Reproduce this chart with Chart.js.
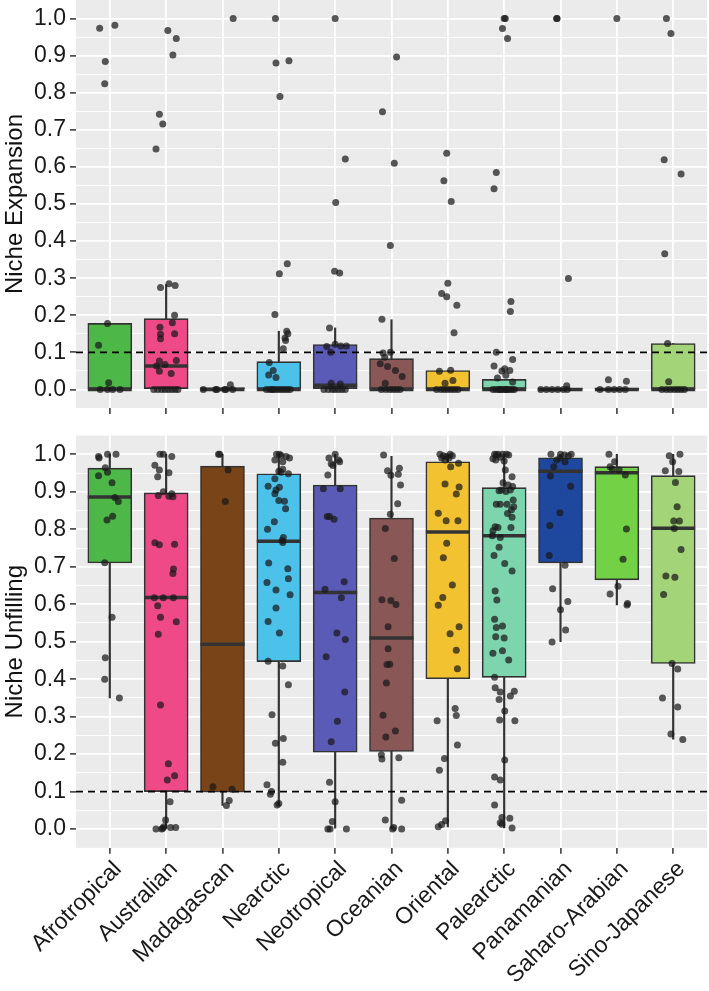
<!DOCTYPE html>
<html>
<head>
<meta charset="utf-8">
<script src="https://cdn.jsdelivr.net/npm/chart.js@4.4.1/dist/chart.umd.min.js"></script>
<style>
body { margin: 0; background: #fff; width: 709px; height: 991px; position: relative; overflow: hidden; }
canvas { position: absolute; left: 0; }
#topChart { top: 0; }
#bottomChart { top: 422px; }
</style>
</head>
<body>
<canvas id="topChart" width="709" height="422"></canvas>
<canvas id="bottomChart" width="709" height="569"></canvas>
<script>
var regions = ['Afrotropical', 'Australian', 'Madagascan', 'Nearctic', 'Neotropical', 'Oceanian',
    'Oriental', 'Palearctic', 'Panamanian', 'Saharo-Arabian', 'Sino-Japanese'];
var boxColors = ['#4DB748', '#EE4A88', '#7A4419', '#4CC2EB', '#5A5BB6', '#8A5757',
    '#F3C231', '#7DD5AE', '#1E479E', '#73D146', '#A3D477'];
var threshold = 0.1;

// niche expansion: box stats
var expLow = [0, 0, 0, 0, 0, 0, 0, 0, 0, 0, 0];
var expQ1 = [0, 0, 0, 0, 0, 0, 0, 0, 0, 0, 0];
var expMedian = [0, 0.063, 0, 0, 0.011, 0, 0, 0, 0, 0, 0];
var expQ3 = [0.178, 0.191, 0.005, 0.075, 0.121, 0.083, 0.051, 0.027, 0.003, 0.004, 0.124];
var expHigh = [0.178, 0.283, 0.005, 0.157, 0.166, 0.188, 0.051, 0.027, 0.003, 0.004, 0.124];

// niche expansion: observations (values and horizontal jitter, in category units)
var expValues = [
    [0.974, 0.982, 0.884, 0.824, 0.178, 0.119, 0.018, 0, 0, 0, 0],
    [0.968, 0.946, 0.902, 0.742, 0.716, 0.648, 0.275, 0.285, 0.28, 0.2, 0.18, 0.168, 0.149, 0.137, 0.15, 0.077, 0.063, 0.067, 0.078, 0.049, 0.043, 0, 0, 0, 0, 0, 0, 0, 0],
    [1.0, 0.013, 0, 0, 0, 0, 0, 0],
    [1.0, 0.88, 0.886, 0.79, 0.339, 0.312, 0.202, 0.157, 0.15, 0.139, 0.132, 0.11, 0.073, 0.051, 0.039, 0.032, 0, 0, 0, 0, 0, 0, 0, 0, 0, 0],
    [1.0, 0.621, 0.504, 0.319, 0.314, 0.166, 0.1, 0.122, 0.117, 0.117, 0.116, 0.017, 0.015, 0, 0, 0, 0, 0, 0, 0],
    [0.896, 0.749, 0.61, 0.388, 0.189, 0.098, 0.1, 0.087, 0.069, 0.062, 0.051, 0.035, 0.017, 0, 0, 0, 0, 0, 0],
    [0.637, 0.563, 0.507, 0.286, 0.259, 0.25, 0.227, 0.153, 0.049, 0.052, 0.024, 0.017, 0, 0, 0, 0, 0, 0, 0],
    [1, 1, 0.973, 0.946, 0.585, 0.541, 0.237, 0.21, 0.1, 0.081, 0.063, 0.056, 0.051, 0.05, 0.038, 0.031, 0.02, 0, 0, 0, 0, 0, 0, 0, 0, 0, 0, 0, 0],
    [1, 1, 0.299, 0.01, 0, 0, 0, 0, 0, 0],
    [1, 0.026, 0.022, 0, 0, 0, 0, 0],
    [1, 0.96, 0.619, 0.581, 0.366, 0.124, 0.021, 0, 0, 0, 0, 0, 0, 0]
];
var expJitter = [
    [-0.18, 0.09, -0.08, -0.09, -0.04, -0.2, -0.02, -0.17, -0.04, 0.05, 0.18],
    [0.03, 0.18, 0.12, -0.12, -0.06, -0.18, -0.1, 0.05, 0.16, 0.15, 0.11, -0.11, -0.1, -0.1, 0.15, -0.12, -0.17, -0.02, 0.18, -0.12, 0.09, -0.22, -0.15, -0.08, -0.02, 0.04, 0.1, 0.16, 0.21],
    [0.19, 0.14, -0.34, -0.12, 0.04, 0.18, -0.1, 0.06],
    [-0.06, -0.05, 0.18, 0.02, 0.15, 0.01, -0.07, 0.14, 0.16, 0.11, 0.12, 0.08, -0.17, -0.1, -0.18, -0.05, -0.22, -0.16, -0.1, -0.05, 0, 0.05, 0.1, 0.15, 0.2, -0.12],
    [0, 0.18, 0.01, -0.01, 0.08, -0.1, -0.08, 0, 0.1, 0.2, -0.15, -0.07, 0.09, -0.2, -0.12, -0.05, 0, 0.06, 0.12, 0.18],
    [0.09, -0.16, 0.05, -0.02, -0.17, -0.15, -0.02, -0.12, -0.2, -0.07, 0.07, 0.19, -0.11, -0.18, -0.1, -0.03, 0.03, 0.09, 0.15],
    [-0.02, -0.07, 0.06, 0, -0.11, -0.02, 0.16, 0.11, -0.15, 0.05, 0.09, -0.05, -0.2, -0.12, -0.06, 0, 0.06, 0.12, 0.18],
    [0, 0.02, -0.03, 0.06, -0.14, -0.18, 0.12, 0.11, -0.14, 0.15, -0.18, 0.01, 0.1, -0.04, 0.03, -0.12, 0.15, -0.2, -0.15, -0.1, -0.06, -0.02, 0.02, 0.06, 0.1, 0.14, 0.18, -0.08, 0.04],
    [-0.07, -0.06, 0.14, 0.11, -0.35, -0.25, -0.15, -0.05, 0.05, 0.12],
    [0, -0.15, 0.17, -0.3, -0.15, -0.05, 0.05, 0.15],
    [-0.12, -0.04, -0.16, 0.14, -0.15, -0.1, -0.08, -0.2, -0.12, -0.05, 0.02, 0.08, 0.14, 0.2]
];

// niche unfilling: box stats
var unfLow = [0.35, 0, 0.063, 0.064, 0, 0, 0.006, 0.003, 0.5, 0.598, 0.24];
var unfQ1 = [0.71, 0.1, 0.0985, 0.447, 0.205, 0.207, 0.401, 0.405, 0.71, 0.665, 0.442];
var unfMedian = [0.886, 0.618, 0.4935, 0.768, 0.631, 0.51, 0.793, 0.783, 0.955, 0.951, 0.803];
var unfQ3 = [0.963, 0.897, 0.9685, 0.948, 0.918, 0.83, 0.98, 0.911, 0.991, 0.967, 0.943];
var unfHigh = [1.0, 1.0, 1.0, 1.0, 1.0, 0.995, 1.0, 1.0, 1.0, 1.0, 1.0];

// niche unfilling: observations
var unfValues = [
    [0.994, 0.99, 1.0, 1.0, 0.964, 0.952, 0.943, 0.924, 0.885, 0.874, 0.835, 0.825, 0.711, 0.565, 0.457, 0.4, 0.35],
    [1.0, 1.0, 0.994, 0.971, 0.958, 0.951, 0.94, 0.9, 0.89, 0.888, 0.887, 0.895, 0.764, 0.759, 0.76, 0.694, 0.682, 0.617, 0.617, 0.617, 0.596, 0.565, 0.553, 0.52, 0.331, 0.174, 0.142, 0.131, 0.073, 0.024, 0.006, 0, 0, 0.004, 0.004, 0.002],
    [1.0, 1.0, 0.958, 0.874, 0.113, 0.106, 0.076, 0.063],
    [1.0, 1.0, 0.997, 0.994, 0.99, 0.985, 0.98, 0.96, 0.955, 0.952, 0.948, 0.935, 0.915, 0.912, 0.905, 0.895, 0.877, 0.875, 0.855, 0.82, 0.8, 0.778, 0.77, 0.765, 0.71, 0.695, 0.668, 0.658, 0.638, 0.625, 0.59, 0.554, 0.523, 0.448, 0.435, 0.385, 0.305, 0.242, 0.229, 0.178, 0.118, 0.1, 0.093, 0.068, 0.064],
    [1.0, 0.99, 0.985, 0.98, 0.975, 0.97, 0.945, 0.908, 0.908, 0.834, 0.834, 0.827, 0.66, 0.64, 0.617, 0.523, 0.506, 0.46, 0.366, 0.288, 0.233, 0.125, 0.073, 0.02, 0, 0, 0],
    [0.998, 0.963, 0.956, 0.947, 0.944, 0.918, 0.868, 0.84, 0.802, 0.722, 0.612, 0.61, 0.599, 0.54, 0.481, 0.439, 0.44, 0.39, 0.304, 0.262, 0.246, 0.198, 0.187, 0.19, 0.077, 0.024, 0.004, 0, 0],
    [1.0, 0.996, 0.994, 1.0, 0.996, 0.985, 0.99, 0.99, 0.967, 0.976, 0.921, 0.913, 0.894, 0.843, 0.823, 0.823, 0.763, 0.724, 0.651, 0.618, 0.597, 0.54, 0.521, 0.477, 0.428, 0.322, 0.303, 0.289, 0.224, 0.188, 0.157, 0.022, 0.012, 0.006],
    [1.0, 1.0, 1.0, 0.998, 0.998, 1.0, 0.988, 0.985, 0.992, 0.982, 0.958, 0.94, 0.924, 0.918, 0.914, 0.903, 0.905, 0.905, 0.901, 0.878, 0.867, 0.867, 0.867, 0.86, 0.852, 0.842, 0.832, 0.807, 0.805, 0.805, 0.796, 0.783, 0.778, 0.752, 0.73, 0.709, 0.689, 0.635, 0.611, 0.56, 0.542, 0.538, 0.513, 0.51, 0.476, 0.469, 0.451, 0.405, 0.377, 0.366, 0.355, 0.368, 0.346, 0.315, 0.291, 0.289, 0.184, 0.139, 0.131, 0.064, 0.031, 0.029, 0.017, 0.013, 0.003],
    [1.0, 1.0, 0.998, 1.0, 0.996, 0.985, 0.98, 0.967, 0.99, 0.942, 0.915, 0.844, 0.81, 0.73, 0.704, 0.641, 0.607, 0.585, 0.531, 0.499],
    [1.0, 0.98, 0.967, 0.96, 0.958, 0.945, 0.801, 0.72, 0.648, 0.627, 0.602, 0.598],
    [0.996, 1.0, 0.98, 0.956, 0.954, 0.925, 0.86, 0.822, 0.822, 0.802, 0.746, 0.675, 0.672, 0.626, 0.442, 0.427, 0.35, 0.326, 0.254, 0.239]
];
var unfJitter = [
    [-0.2, -0.19, -0.04, 0.11, -0.08, -0.04, -0.2, 0.04, 0.09, 0.15, 0.05, -0.05, -0.09, 0.04, -0.08, -0.09, 0.17],
    [-0.11, -0.05, 0.1, -0.2, -0.12, 0.05, -0.15, -0.05, -0.14, 0.05, 0.12, 0.1, -0.2, -0.12, 0.15, 0.13, 0.12, -0.21, -0.05, 0.13, -0.15, -0.1, 0.18, -0.14, -0.1, 0.04, 0.15, 0.02, 0.07, -0.01, -0.04, -0.18, -0.08, 0.08, 0.17, -0.06],
    [-0.07, -0.05, 0.1, 0.05, -0.17, 0.17, 0.12, 0.07],
    [-0.04, 0.01, 0.04, 0.13, 0.19, -0.07, 0.07, 0.07, 0, 0.04, 0.17, -0.07, -0.19, 0.01, -0.05, -0.07, 0, 0.1, 0.12, -0.08, -0.2, 0.08, 0.06, 0.07, -0.18, 0.16, 0.17, -0.21, -0.05, 0.2, -0.05, -0.19, 0.01, -0.19, 0.07, 0.17, -0.12, 0.08, -0.06, 0.07, -0.21, -0.13, -0.15, 0, -0.03],
    [0, -0.11, 0.06, 0.08, -0.07, -0.04, -0.13, -0.21, 0.09, -0.14, -0.1, -0.02, 0.16, -0.18, 0.11, 0.03, 0.18, -0.16, 0.17, 0.04, -0.07, -0.1, 0, -0.05, -0.13, -0.09, 0.2],
    [-0.14, 0.14, -0.07, 0.12, -0.01, 0.16, 0.11, -0.02, -0.11, 0.05, -0.17, -0.01, 0.08, -0.06, -0.06, -0.08, -0.03, -0.09, -0.15, 0.07, -0.1, -0.18, -0.17, 0.13, 0.18, -0.11, 0.04, 0.18, 0.02],
    [-0.14, -0.08, -0.02, 0.04, 0.08, -0.05, 0.02, -0.11, 0.05, 0.19, -0.05, 0.2, 0.15, -0.17, -0.03, 0.18, -0.02, -0.08, 0.08, -0.09, -0.17, 0.2, 0.04, 0.15, 0.17, 0.13, 0.15, -0.19, 0.17, -0.06, -0.15, -0.04, -0.11, -0.17],
    [-0.17, -0.11, 0.04, 0.08, -0.14, -0.03, -0.2, -0.15, -0.07, 0, 0.02, 0.14, -0.02, 0.07, 0.15, -0.09, -0.05, 0.11, 0.03, 0.16, -0.14, -0.07, 0.05, 0.17, 0.13, 0.06, 0.14, -0.16, -0.11, 0.12, -0.2, -0.21, -0.07, -0.09, -0.18, 0.01, 0.14, -0.16, -0.13, -0.17, -0.03, -0.14, -0.15, 0, -0.03, -0.2, 0.08, -0.17, -0.16, -0.07, 0.11, 0.18, -0.09, 0.01, -0.08, 0.19, 0.01, -0.17, -0.07, -0.17, -0.04, 0.1, -0.07, -0.04, 0.14],
    [-0.17, 0, 0.07, 0.19, 0.14, -0.07, 0.08, -0.12, -0.01, -0.18, 0.18, -0.01, -0.19, -0.2, 0.08, -0.14, 0.13, 0, 0.09, -0.15],
    [-0.14, -0.04, -0.12, -0.08, 0.04, 0.15, 0.17, 0.11, 0.02, -0.12, 0.19, 0.18],
    [-0.07, 0.12, -0.01, -0.14, 0.1, 0.04, 0.07, 0.01, 0.11, 0.02, 0.14, -0.13, 0.03, -0.17, -0.02, 0.08, -0.19, 0.08, -0.04, 0.17]
];

var xMin = -0.6, xMax = 10.6;
var yTicks = [];
for (var k = -1; k <= 21; k++) yTicks.push(Math.round(k * 5) / 100);

function isMajor(v) {
    var k = Math.round(v * 20);
    return k % 2 === 0 && k >= 0 && k <= 20;
}
function isEdge(v) {
    var k = Math.round(v * 20);
    return k < 0 || k > 20;
}

Chart.defaults.font.family = '"Liberation Sans", Arial, sans-serif';

var panelBg = {
    id: 'panelBg',
    beforeDraw: function (chart) {
        var ctx = chart.ctx, a = chart.chartArea;
        ctx.save();
        ctx.fillStyle = '#EBEBEB';
        ctx.fillRect(a.left, a.top, a.right - a.left, a.bottom - a.top);
        ctx.restore();
    }
};

function makePanel(canvasId, title, low, q1, median, q3, high, values, jitter, showLabels, padTop, xHeight) {
    var points = [];
    for (var i = 0; i < values.length; i++) {
        for (var j = 0; j < values[i].length; j++) {
            points.push({ x: i + jitter[i][j], y: values[i][j] });
        }
    }
    var boxes = regions.map(function (r, i) { return { x: i, y: [q1[i], q3[i]] }; });
    var whiskers = regions.map(function (r, i) { return { x: i, y: [low[i], high[i]] }; });
    var medians = regions.map(function (r, i) { return { x: i, y: median[i] }; });
    var refLine = [{ x: xMin, y: threshold }, { x: xMax, y: threshold }];

    return new Chart(document.getElementById(canvasId), {
        type: 'bar',
        data: {
            datasets: [{
                type: 'scatter',
                data: points,
                pointRadius: 3.5,
                pointBackgroundColor: 'rgba(25,25,25,0.72)',
                pointBorderWidth: 0,
                order: 0
            }, {
                type: 'line',
                data: refLine,
                borderColor: '#000',
                borderWidth: 1.7,
                borderDash: [7, 5],
                pointRadius: 0,
                order: 1
            }, {
                type: 'scatter',
                data: medians,
                pointStyle: 'line',
                pointRadius: 22,
                pointBorderWidth: 3.5,
                pointBorderColor: '#333',
                order: 2
            }, {
                type: 'bar',
                data: boxes,
                backgroundColor: boxColors,
                borderColor: '#333',
                borderWidth: 1.6,
                borderSkipped: false,
                barThickness: 44,
                grouped: false,
                order: 3
            }, {
                type: 'bar',
                data: whiskers,
                backgroundColor: '#333',
                borderWidth: 0,
                barThickness: 1.5,
                grouped: false,
                order: 4
            }]
        },
        options: {
            responsive: false,
            animation: false,
            devicePixelRatio: 1,
            events: [],
            layout: { autoPadding: false, padding: { top: padTop, right: 2, bottom: 0, left: 0 } },
            plugins: { legend: { display: false }, tooltip: { enabled: false } },
            scales: {
                x: {
                    type: 'linear',
                    min: xMin,
                    max: xMax,
                    offset: false,
                    afterBuildTicks: function (ax) {
                        ax.ticks = regions.map(function (r, i) { return { value: i }; });
                    },
                    afterFit: function (ax) {
                        ax.height = xHeight;
                        ax.paddingLeft = 0;
                        ax.paddingRight = 0;
                    },
                    ticks: {
                        display: showLabels,
                        autoSkip: false,
                        minRotation: 45,
                        maxRotation: 45,
                        padding: 2,
                        labelOffset: 8,
                        color: '#1a1a1a',
                        font: { size: 23 },
                        callback: function (v) { return regions[v]; }
                    },
                    grid: { offset: false, color: '#fff', lineWidth: 1.8, tickLength: 6, tickColor: '#333', tickWidth: 1.5 },
                    border: { display: false }
                },
                y: {
                    type: 'linear',
                    min: -0.05,
                    max: 1.05,
                    afterBuildTicks: function (ax) {
                        ax.ticks = yTicks.map(function (v) { return { value: v }; });
                    },
                    afterFit: function (ax) {
                        ax.width = 76;
                        ax.paddingTop = 0;
                        ax.paddingBottom = 0;
                    },
                    ticks: {
                        autoSkip: false,
                        padding: 4,
                        color: '#1a1a1a',
                        font: { size: 23 },
                        callback: function (v) { return isMajor(v) ? v.toFixed(1) : ''; }
                    },
                    grid: {
                        color: function (c) { return isEdge(c.tick.value) ? 'rgba(0,0,0,0)' : '#fff'; },
                        lineWidth: function (c) { return isMajor(c.tick.value) ? 1.8 : 0.9; },
                        tickLength: 6,
                        tickColor: function (c) { return isMajor(c.tick.value) ? '#333' : 'rgba(0,0,0,0)'; },
                        tickWidth: 1.5
                    },
                    border: { display: false },
                    title: { display: true, text: title, color: '#111', font: { size: 24 }, padding: { top: 1, bottom: 0 } }
                }
            }
        },
        plugins: [panelBg]
    });
}

var topChart = makePanel('topChart', 'Niche Expansion', expLow, expQ1, expMedian, expQ3, expHigh,
    expValues, expJitter, false, 0, 14);
var bottomChart = makePanel('bottomChart', 'Niche Unfilling', unfLow, unfQ1, unfMedian, unfQ3, unfHigh,
    unfValues, unfJitter, true, 13.6, 143.2);
</script>
</body>
</html>
